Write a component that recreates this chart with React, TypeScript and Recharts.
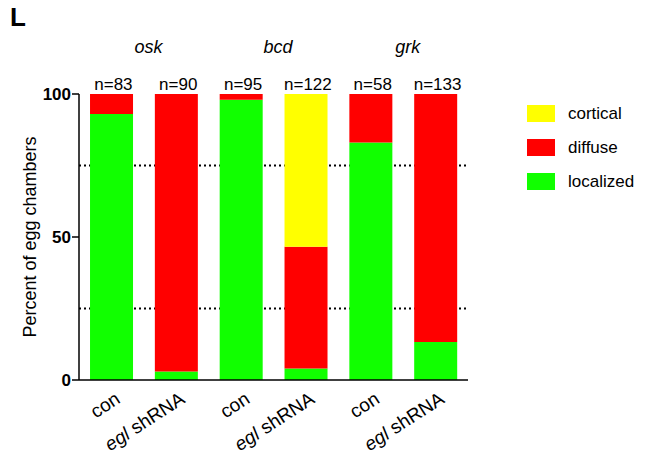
import { Bar, BarChart, CartesianGrid, XAxis, YAxis } from "recharts"

document.body.style.margin = "0"

const keys = ["osk-con", "osk-egl", "bcd-con", "bcd-egl", "grk-con", "grk-egl"]
const conditions = ["con", "egl", "con", "egl", "con", "egl"]
const genes = ["osk", "", "bcd", "", "grk", ""]
const counts = ["n=83", "n=90", "n=95", "n=122", "n=58", "n=133"]
const localized = [93, 3, 98, 4, 83, 13.3]
const diffuse = [7, 97, 2, 42.6, 17, 86.7]
const cortical = [0, 0, 0, 53.4, 0, 0]
const legendNames = ["cortical", "diffuse", "localized"] as const

const COLORS = { cortical: "#ffff00", diffuse: "#ff0000", localized: "#11ff00" }
const FONT = "'Liberation Sans', Arial, sans-serif"

const data = keys.map((key, i) => ({
  key,
  localized: localized[i],
  diffuse: diffuse[i],
  cortical: cortical[i],
}))

const BottomTick = (props: any) => {
  const { x, y, index } = props
  const ax = x + 10
  const ay = y + 22
  return (
    <text
      x={ax}
      y={ay}
      textAnchor="end"
      transform={`rotate(-33 ${ax} ${ay})`}
      fontFamily={FONT}
      fontSize={19}
      fill="#000"
    >
      {conditions[index] === "con" ? (
        "con"
      ) : (
        <>
          <tspan fontStyle="italic">egl</tspan> shRNA
        </>
      )}
    </text>
  )
}

const TopTick = (props: any) => {
  const { x, y, index } = props
  return (
    <g>
      <text x={x + 2} y={y - 4} textAnchor="middle" fontFamily={FONT} fontSize={17} fill="#000">
        {counts[index]}
      </text>
      {genes[index] && (
        <text x={x + 37} y={y - 41} textAnchor="middle" fontFamily={FONT} fontSize={18} fontStyle="italic" fill="#000">
          {genes[index]}
        </text>
      )}
    </g>
  )
}

const LegendBox = () => (
  <div style={{ position: "absolute", left: 527, top: 105, fontFamily: FONT, fontSize: 17, color: "#000" }}>
    {legendNames.map((name) => (
      <div key={name} style={{ display: "flex", alignItems: "center", height: 17, marginBottom: 17 }}>
        <div style={{ width: 28, height: 17, background: COLORS[name], marginRight: 13 }} />
        <span>{name}</span>
      </div>
    ))}
  </div>
)

export default function App() {
  return (
    <div style={{ position: "relative", width: 651, height: 456, background: "#fff" }}>
      <div
        style={{
          position: "absolute",
          left: 10,
          top: 2,
          fontFamily: FONT,
          fontWeight: "bold",
          fontSize: 26,
        }}
      >
        L
      </div>
      <LegendBox />
      <BarChart
        width={651}
        height={456}
        data={data}
        margin={{ top: 34, right: 183, bottom: 0, left: 0 }}
        barCategoryGap="17%"
      >
        <CartesianGrid
          vertical={false}
          horizontalValues={[25, 75]}
          stroke="#000"
          strokeWidth={2}
          strokeDasharray="2 3"
        />
        <XAxis
          dataKey="key"
          height={76}
          tick={<BottomTick />}
          tickLine={false}
          tickSize={0}
          tickMargin={0}
          interval={0}
          axisLine={{ stroke: "#000", strokeWidth: 1.5 }}
        />
        <XAxis
          xAxisId="top"
          dataKey="key"
          orientation="top"
          height={60}
          tick={<TopTick />}
          tickLine={false}
          tickSize={0}
          tickMargin={0}
          interval={0}
          axisLine={false}
        />
        <YAxis
          width={79}
          domain={[0, 100]}
          ticks={[0, 50, 100]}
          tickSize={7}
          tickMargin={1}
          axisLine={{ stroke: "#000", strokeWidth: 1.5 }}
          tickLine={{ stroke: "#000", strokeWidth: 1.5 }}
          tick={{ fontFamily: FONT, fontSize: 17, fontWeight: "bold", fill: "#000" }}
          label={{
            value: "Percent of egg chambers",
            angle: -90,
            position: "insideLeft",
            offset: 0,
            dx: 30,
            style: { textAnchor: "middle", fontFamily: FONT, fontSize: 18, fill: "#000" },
          }}
        />
        <Bar dataKey="localized" stackId="a" fill={COLORS.localized} isAnimationActive={false} />
        <Bar dataKey="diffuse" stackId="a" fill={COLORS.diffuse} isAnimationActive={false} />
        <Bar dataKey="cortical" stackId="a" fill={COLORS.cortical} isAnimationActive={false} />
      </BarChart>
    </div>
  )
}
